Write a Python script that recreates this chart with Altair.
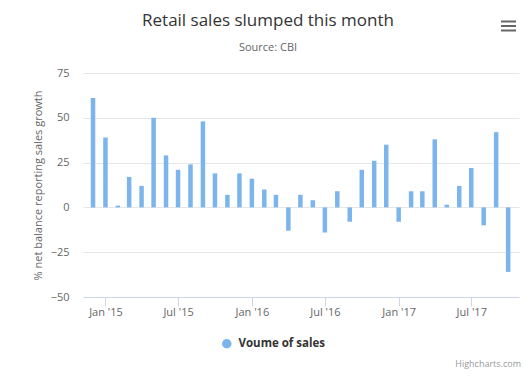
import altair as alt
import pandas as pd

months = [
    "2014-12-01", "2015-01-01", "2015-02-01", "2015-03-01", "2015-04-01", "2015-05-01",
    "2015-06-01", "2015-07-01", "2015-08-01", "2015-09-01", "2015-10-01", "2015-11-01",
    "2015-12-01", "2016-01-01", "2016-02-01", "2016-03-01", "2016-04-01", "2016-05-01",
    "2016-06-01", "2016-07-01", "2016-08-01", "2016-09-01", "2016-10-01", "2016-11-01",
    "2016-12-01", "2017-01-01", "2017-02-01", "2017-03-01", "2017-04-01", "2017-05-01",
    "2017-06-01", "2017-07-01", "2017-08-01", "2017-09-01", "2017-10-01",
]
values = [
    61, 39, 1, 17, 12, 50, 29, 21, 24, 48, 19, 7,
    19, 16, 10, 7, -13, 7, 4, -14, 9, -8, 21, 26,
    35, -8, 9, 9, 38, 1.5, 12, 22, -10, 42, -36,
]
series_name = "Voume of sales"
tick_dates = [(2015, 1), (2015, 7), (2016, 1), (2016, 7), (2017, 1), (2017, 7)]
title_text = "Retail sales slumped this month"
subtitle_text = "Source: CBI"
credits_text = "Highcharts.com"

FONT = "Open Sans"

df = pd.DataFrame({"month": months, "value": values, "series": series_name})

bars = alt.Chart(df).mark_bar(width=4.5).encode(
    x=alt.X(
        "month:T",
        scale=alt.Scale(
            type="utc",
            padding=0,
            domain=[alt.DateTime(year=2014, month=11, date=6, utc=True),
                    alt.DateTime(year=2017, month=10, date=28, utc=True)],
        ),
        axis=alt.Axis(
            title=None,
            values=[alt.DateTime(year=y, month=m, date=1, utc=True) for y, m in tick_dates],
            format="%b '%y",
            grid=False,
            domainColor="#ccd6eb",
            tickColor="#ccd6eb",
            tickSize=9,
            labelPadding=0,
            labelFontSize=11,
            labelColor="#666666",
            labelFont=FONT,
        ),
    ),
    y=alt.Y(
        "value:Q",
        scale=alt.Scale(domain=[-50, 75], nice=False, zero=True),
        axis=alt.Axis(
            title="% net balance reporting sales growth",
            values=[-50, -25, 0, 25, 50, 75],
            domain=False,
            ticks=False,
            gridColor="#e6e6e6",
            labelPadding=14,
            labelFontSize=11,
            labelColor="#666666",
            labelFont=FONT,
            titleFont=FONT,
            titleFontSize=11,
            titleFontWeight="normal",
            titleColor="#666666",
            titleX=-45,
            titleY=112,
            titleBaseline="middle",
            titleAngle=270,
        ),
    ),
    color=alt.Color(
        "series:N",
        scale=alt.Scale(range=["#7cb5ec"]),
        legend=alt.Legend(
            title=None,
            orient="none",
            legendX=138,
            legendY=265,
            symbolType="circle",
            symbolSize=90,
            labelFontSize=11.5,
            labelFontWeight="bold",
            labelColor="#333333",
            labelFont=FONT,
            labelOffset=6,
        ),
    ),
)

one = pd.DataFrame({"k": [0]})

title = alt.Chart(pd.DataFrame({"t": [title_text]})).mark_text(
    align="center", baseline="middle", fontSize=17, color="#333333", font=FONT
).encode(text="t:N", x=alt.value(185), y=alt.value(-52.5))

subtitle = alt.Chart(pd.DataFrame({"t": [subtitle_text]})).mark_text(
    align="center", baseline="middle", fontSize=11, color="#666666", font=FONT
).encode(text="t:N", x=alt.value(185), y=alt.value(-25.5))

credits = alt.Chart(pd.DataFrame({"t": [credits_text]})).mark_text(
    align="right", baseline="middle", fontSize=9, color="#999999", font=FONT
).encode(text="t:N", x=alt.value(438), y=alt.value(291))

menu = alt.layer(*[
    alt.Chart(one).mark_rule(color="#666666", strokeWidth=2).encode(
        x=alt.value(418), x2=alt.value(433), y=alt.value(yy)
    )
    for yy in (-51.5, -47, -42.5)
])

chart = alt.layer(bars, title, subtitle, credits, menu).properties(
    width=436,
    height=224,
    autosize=alt.AutoSizeParams(type="none"),
    padding={"left": 75, "top": 65, "right": 2, "bottom": 73},
).configure_view(stroke=None)

chart.save("out.html", embed_options={"renderer": "svg", "actions": False})
